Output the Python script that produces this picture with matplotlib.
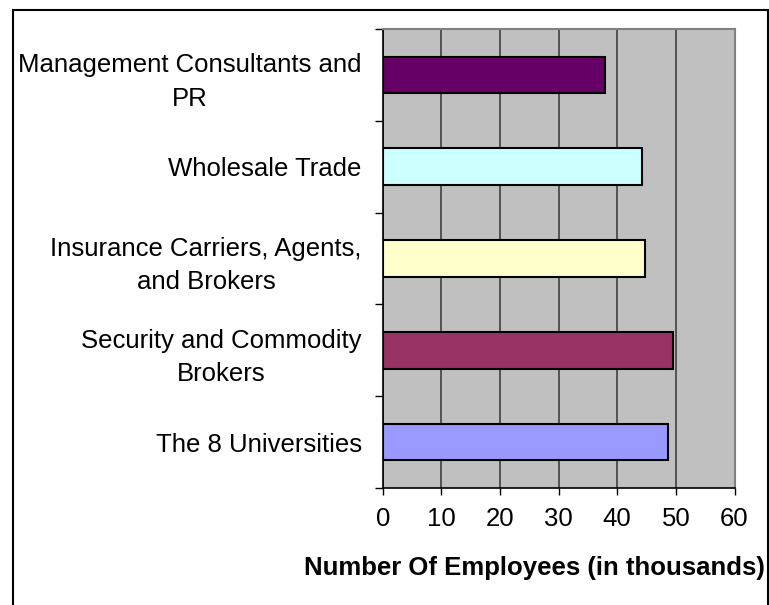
import matplotlib.pyplot as plt
from matplotlib.patches import Rectangle

plt.rcParams['font.family'] = ['Liberation Sans', 'DejaVu Sans']

# bottom to top, as drawn on the chart
categories = [
    'The 8 Universities',
    'Security and Commodity\nBrokers',
    'Insurance Carriers, Agents,\nand Brokers',
    'Wholesale Trade',
    'Management Consultants and\nPR',
]
employees = [48.7, 49.5, 44.7, 44.3, 37.9]
bar_colors = ['#9999FF', '#993366', '#FFFFCC', '#CCFFFF', '#660066']
x_ticks = [0, 10, 20, 30, 40, 50, 60]

W, H = 769, 605
fig = plt.figure(figsize=(W / 100, H / 100), dpi=100)

# outer chart frame (open at the bottom)
fig.patches.append(Rectangle((13 / W, -0.05), (768 - 13) / W, 1.05 - 10 / H,
                             transform=fig.transFigure, fill=False,
                             edgecolor='black', linewidth=1.5))

left, right, top, bottom = 382.7, 734.5, 29, 488
ax = fig.add_axes([left / W, 1 - bottom / H, (right - left) / W, (bottom - top) / H])
ax.set_facecolor('#C0C0C0')

pos = list(range(len(categories)))
ax.barh(pos, employees, height=0.4, color=bar_colors,
        edgecolor='black', linewidth=1.5, zorder=3)

ax.set_xlim(0, 60)
ax.set_ylim(-0.5, len(categories) - 0.5)
ax.set_xticks(x_ticks)
ax.set_xticklabels([str(t) for t in x_ticks], fontsize=18.5)
ax.xaxis.grid(True, color='#404040', linewidth=1.2, zorder=1)
ax.set_axisbelow(True)

ax.set_yticks(pos)
ax.set_yticklabels(categories, fontsize=18.5, multialignment='center',
                   linespacing=1.5)
ax.set_yticks([p - 0.5 for p in pos] + [len(categories) - 0.5], minor=True)
ax.tick_params(axis='y', which='major', length=0, pad=15)
ax.tick_params(axis='y', which='minor', length=6, width=1, direction='out')
ax.tick_params(axis='x', length=5, width=1, direction='out', pad=9)

for side in ('top', 'right'):
    ax.spines[side].set_color('#808080')
    ax.spines[side].set_linewidth(1.5)
for side in ('left', 'bottom'):
    ax.spines[side].set_color('black')
    ax.spines[side].set_linewidth(1.2)

fig.text(765 / W, 1 - 568 / H, 'Number Of Employees (in thousands)',
         ha='right', va='center', fontsize=18.5, fontweight='bold')

fig.savefig('out.png', dpi=100)
